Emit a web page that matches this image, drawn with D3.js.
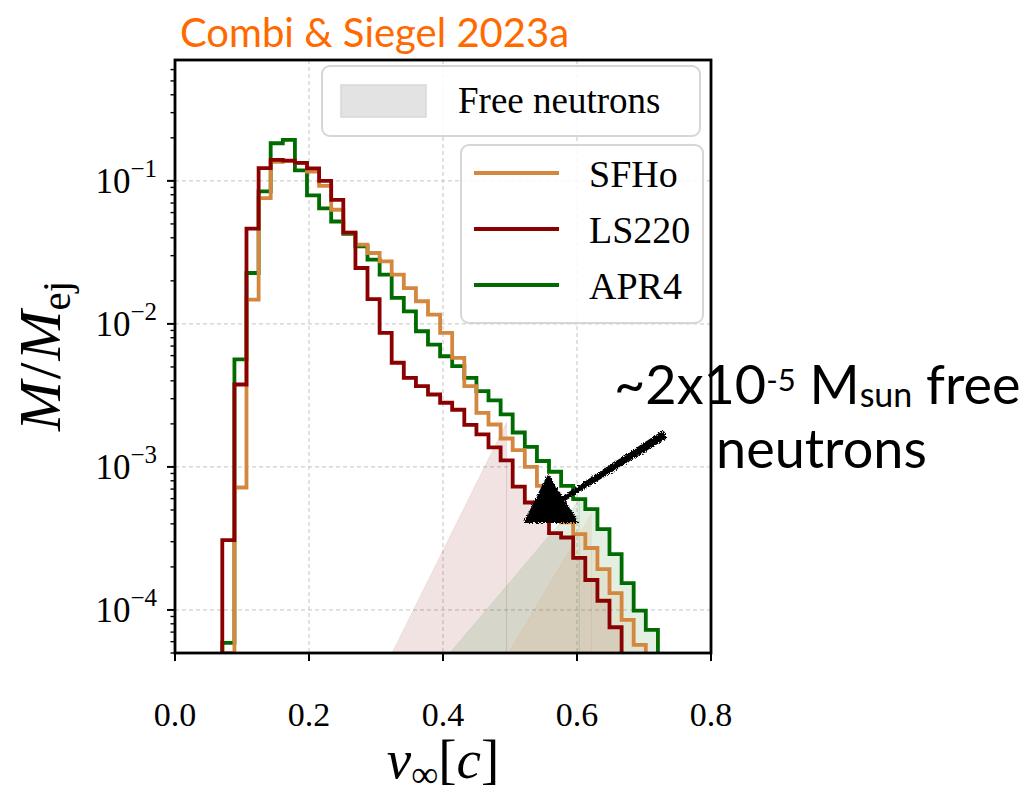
<!DOCTYPE html>
<html>
<head>
<meta charset="utf-8">
<script src="https://cdn.jsdelivr.net/npm/d3@7"></script>
<style>
  body { margin: 0; background: #fff; }
  svg { display: block; }
</style>
</head>
<body>
<svg id="chart" width="1030" height="796"></svg>
<script>
// Velocity bin edges v_inf [c] shared by all three histograms
const binEdges = [0.0706, 0.0887, 0.1067, 0.1248, 0.1428, 0.1609, 0.1790, 0.1970, 0.2151, 0.2331,
  0.2512, 0.2693, 0.2873, 0.3054, 0.3234, 0.3415, 0.3596, 0.3776, 0.3957, 0.4137,
  0.4318, 0.4499, 0.4679, 0.4860, 0.5040, 0.5221, 0.5402, 0.5582, 0.5763, 0.5943,
  0.6124, 0.6305, 0.6485, 0.6666, 0.6846, 0.7027, 0.7208];

// Mass fraction M/M_ej per bin (null = empty bin)
const sfho = [null, 7.18e-4, 0.0148, 0.0757, 0.1357, 0.1378, 0.1335, 0.1161, 0.0923, 0.0628,
  0.0434, 0.0358, 0.0313, 0.0274, 0.0221, 0.0178, 0.0144, 0.0116, 0.00866, 0.00579,
  0.00367, 0.00239, 0.00198, 0.00158, 0.00131, 0.00100, 7.37e-4, 5.49e-4, 4.09e-4, 3.39e-4,
  2.71e-4, 1.93e-4, 1.31e-4, 8.51e-5, 5.70e-5];
const ls220 = [3.08e-4, 3.77e-3, 0.0463, 0.1226, 0.140, 0.1385, 0.1335, 0.1222, 0.100, 0.0737,
  0.0434, 0.0246, 0.0149, 0.00866, 0.00535, 0.00420, 0.00367, 0.00321, 0.00281, 0.00251,
  0.00197, 0.00169, 0.00137, 0.00111, 7.27e-4, 5.64e-4, 4.60e-4, 3.44e-4, 3.21e-4, 2.31e-4,
  1.62e-4, 1.16e-4, 7.57e-5];
const apr4 = [5.88e-5, 5.64e-3, 0.0227, 0.0845, 0.1832, 0.1932, 0.1184, 0.0792, 0.0643, 0.0520,
  0.0427, 0.0348, 0.0281, 0.0221, 0.0152, 0.01225, 0.00888, 0.00717, 0.00594, 0.00506,
  0.00420, 0.00339, 0.00292, 0.00233, 0.00174, 0.00138, 0.00110, 9.25e-4, 7.37e-4, 5.95e-4,
  5.07e-4, 3.67e-4, 2.46e-4, 1.54e-4, 9.89e-5, 7.25e-5];

// Free-neutron shading: ramp start velocity, bin whose centre is the ramp apex, apex mass
const rampLS220 = { startV: 0.3239, apexBin: 23, apexM: 2.05e-3 };
const rampAPR4  = { startV: 0.4104, apexBin: 29, apexM: 5.85e-4 };
const rampSFHo  = { startV: 0.4975, apexBin: 30, apexM: 4.70e-4 };

const xTicks = [0.0, 0.2, 0.4, 0.6, 0.8];
const xTickLabels = ["0.0", "0.2", "0.4", "0.6", "0.8"];
const yTicks = [1e-4, 1e-3, 1e-2, 1e-1];
const yTickExponents = ["\u22124", "\u22123", "\u22122", "\u22121"];

const seriesNames = ["SFHo", "LS220", "APR4"];
const seriesColors = { SFHo: "#d4873f", LS220: "#8b0000", APR4: "#006b00" };

// Annotation arrow (data space): head apex, head base corners, shaft start and tail
const arrowHead = [[0.5567, 9.0e-4], [0.5200, 4.05e-4], [0.6030, 4.05e-4]];
const arrowShaft = [[0.575, 5.8e-4], [0.7313, 1.69e-3]];

const yMin = 5e-5, yMax = 0.7;
const plot = { left: 175, top: 60, right: 711, bottom: 653 };

const svg = d3.select("#chart");
const x = d3.scaleLinear().domain([0, 0.8]).range([plot.left, plot.right]);
const y = d3.scaleLog().domain([yMin, yMax]).range([plot.bottom, plot.top]);

const serif = "'Liberation Serif', 'DejaVu Serif', serif";
const sans = "Lato, 'Open Sans', sans-serif";

const defs = svg.append("defs");
defs.append("clipPath").attr("id", "plotClip")
  .append("rect")
  .attr("x", plot.left).attr("y", plot.top)
  .attr("width", plot.right - plot.left).attr("height", plot.bottom - plot.top);

const rough = defs.append("filter").attr("id", "rough")
  .attr("x", "-20%").attr("y", "-20%").attr("width", "140%").attr("height", "140%");
rough.append("feTurbulence").attr("type", "fractalNoise").attr("baseFrequency", 0.9)
  .attr("numOctaves", 2).attr("seed", 3).attr("result", "noise");
rough.append("feDisplacementMap").attr("in", "SourceGraphic").attr("in2", "noise")
  .attr("scale", 5).attr("xChannelSelector", "R").attr("yChannelSelector", "G");

const line = d3.line().x(d => x(d[0])).y(d => y(d[1]));
const clampM = m => (m == null ? yMin : Math.max(m, yMin));

// ---- grid ----
const grid = svg.append("g").attr("stroke", "#c4c4c4").attr("stroke-width", 1)
  .attr("stroke-dasharray", "4,3");
xTicks.filter(v => v > 0 && v < 0.8).forEach(v => {
  grid.append("line").attr("x1", x(v)).attr("x2", x(v))
    .attr("y1", plot.top).attr("y2", plot.bottom);
});
yTicks.forEach(v => {
  grid.append("line").attr("x1", plot.left).attr("x2", plot.right)
    .attr("y1", y(v)).attr("y2", y(v));
});

// ---- free-neutron shading ----
function binCentre(j) { return (binEdges[j] + binEdges[j + 1]) / 2; }

function rampPoints(r) {
  const c = binCentre(r.apexBin);
  return [[r.startV, yMin], [c, r.apexM], [c, yMin]];
}

function tailPoints(vals, j) {
  const c = binCentre(j);
  const pts = [[c, yMin], [c, clampM(vals[j])], [binEdges[j + 1], clampM(vals[j])]];
  for (let i = j + 1; i < vals.length; i++) {
    pts.push([binEdges[i], clampM(vals[i])], [binEdges[i + 1], clampM(vals[i])]);
  }
  pts.push([binEdges[vals.length], yMin]);
  return pts;
}

const shade = svg.append("g").attr("clip-path", "url(#plotClip)");
[
  { ramp: rampLS220, vals: ls220, name: "LS220" },
  { ramp: rampAPR4, vals: apr4, name: "APR4" },
  { ramp: rampSFHo, vals: sfho, name: "SFHo" }
].forEach(s => {
  const col = seriesColors[s.name];
  shade.append("path").attr("d", line(rampPoints(s.ramp)) + "Z")
    .attr("fill", col).attr("fill-opacity", 0.11)
    .attr("stroke", col).attr("stroke-opacity", 0.08).attr("stroke-width", 1);
  shade.append("path").attr("d", line(tailPoints(s.vals, s.ramp.apexBin)) + "Z")
    .attr("fill", col).attr("fill-opacity", 0.11)
    .attr("stroke", col).attr("stroke-opacity", 0.08).attr("stroke-width", 1);
});

// ---- step histograms ----
function stepPoints(vals) {
  const pts = [[binEdges[0], yMin]];
  vals.forEach((m, i) => {
    pts.push([binEdges[i], clampM(m)], [binEdges[i + 1], clampM(m)]);
  });
  pts.push([binEdges[vals.length], yMin]);
  return pts;
}

const hist = svg.append("g").attr("clip-path", "url(#plotClip)");
[["APR4", apr4], ["SFHo", sfho], ["LS220", ls220]].forEach(([name, vals]) => {
  hist.append("path").attr("d", line(stepPoints(vals)))
    .attr("fill", "none").attr("stroke", seriesColors[name])
    .attr("stroke-width", 3.8).attr("stroke-linejoin", "miter");
});

// ---- axes ----
const axes = svg.append("g");
// x ticks
xTicks.forEach((v, i) => {
  axes.append("line").attr("x1", x(v)).attr("x2", x(v))
    .attr("y1", plot.bottom).attr("y2", plot.bottom + 8)
    .attr("stroke", "#000").attr("stroke-width", 2);
  axes.append("text").attr("x", x(v)).attr("y", plot.bottom + 73)
    .attr("text-anchor", "middle").attr("font-family", serif).attr("font-size", 34)
    .text(xTickLabels[i]);
});
// y minor ticks
const minor = [];
for (let e = -5; e <= -1; e++) {
  for (let m = 2; m <= 9; m++) {
    const v = m * Math.pow(10, e);
    if (v >= yMin && v <= yMax) minor.push(v);
  }
}
minor.forEach(v => {
  axes.append("line").attr("x1", plot.left - 4.5).attr("x2", plot.left)
    .attr("y1", y(v)).attr("y2", y(v)).attr("stroke", "#000").attr("stroke-width", 1.4);
});
// y major ticks and labels
yTicks.forEach((v, i) => {
  axes.append("line").attr("x1", plot.left - 8).attr("x2", plot.left)
    .attr("y1", y(v)).attr("y2", y(v)).attr("stroke", "#000").attr("stroke-width", 2);
  const t = axes.append("text").attr("x", plot.left - 18).attr("y", y(v) + 12)
    .attr("text-anchor", "end").attr("font-family", serif);
  t.append("tspan").attr("font-size", 35).text("10");
  t.append("tspan").attr("font-size", 25).attr("dy", -16).text(yTickExponents[i]);
});
// frame
axes.append("rect").attr("x", plot.left).attr("y", plot.top)
  .attr("width", plot.right - plot.left).attr("height", plot.bottom - plot.top)
  .attr("fill", "none").attr("stroke", "#000").attr("stroke-width", 2.8);

// axis labels
const xl = svg.append("text").attr("x", 443).attr("y", 778).attr("text-anchor", "middle")
  .attr("font-family", serif).attr("font-size", 55);
xl.append("tspan").attr("font-style", "italic").text("v");
xl.append("tspan").attr("font-size", 38).attr("dy", 9).text("\u221e");
xl.append("tspan").attr("dy", -9).text("[");
xl.append("tspan").attr("font-style", "italic").text("c");
xl.append("tspan").text("]");

const yl = svg.append("text").attr("transform", "translate(60,356) rotate(-90)")
  .attr("text-anchor", "middle").attr("font-family", serif).attr("font-size", 60);
yl.append("tspan").attr("font-style", "italic").text("M");
yl.append("tspan").attr("dx", 2).text("/");
yl.append("tspan").attr("font-style", "italic").attr("dx", 2).text("M");
yl.append("tspan").attr("font-size", 41).attr("dy", 10).text("ej");

// ---- legends ----
const leg1 = svg.append("g");
leg1.append("rect").attr("x", 322).attr("y", 66).attr("width", 378).attr("height", 70)
  .attr("rx", 8).attr("fill", "#fff").attr("fill-opacity", 0.85)
  .attr("stroke", "#d6d6d6").attr("stroke-width", 2);
leg1.append("rect").attr("x", 341).attr("y", 85).attr("width", 85).attr("height", 32)
  .attr("fill", "#e3e3e3").attr("stroke", "#d8d8d8").attr("stroke-width", 1.5);
leg1.append("text").attr("x", 458).attr("y", 113).attr("font-family", serif)
  .attr("font-size", 37).text("Free neutrons");

const leg2 = svg.append("g");
leg2.append("rect").attr("x", 461).attr("y", 145).attr("width", 242).attr("height", 178)
  .attr("rx", 8).attr("fill", "#fff").attr("fill-opacity", 0.85)
  .attr("stroke", "#d6d6d6").attr("stroke-width", 2);
seriesNames.forEach((name, i) => {
  const cy = 173 + i * 56;
  leg2.append("line").attr("x1", 474).attr("x2", 559).attr("y1", cy).attr("y2", cy)
    .attr("stroke", seriesColors[name]).attr("stroke-width", 3.8);
  leg2.append("text").attr("x", 589).attr("y", cy + 14).attr("font-family", serif)
    .attr("font-size", 38).text(name);
});

// ---- hand-drawn arrow ----
const arrow = svg.append("g").attr("filter", "url(#rough)").attr("fill", "#000");
arrow.append("path").attr("d", line(arrowHead) + "Z");
{
  const p0 = [x(arrowShaft[0][0]), y(arrowShaft[0][1])];
  const p1 = [x(arrowShaft[1][0]), y(arrowShaft[1][1])];
  const dx = p1[0] - p0[0], dy = p1[1] - p0[1];
  const len = Math.hypot(dx, dy);
  const nx = -dy / len, ny = dx / len;
  const w0 = 2.8, w1 = 4.4;
  const poly = [
    [p0[0] + nx * w0, p0[1] + ny * w0], [p1[0] + nx * w1, p1[1] + ny * w1],
    [p1[0] - nx * w1, p1[1] - ny * w1], [p0[0] - nx * w0, p0[1] - ny * w0]
  ];
  arrow.append("path").attr("d", "M" + poly.map(p => p.join(",")).join("L") + "Z");
}

// ---- annotation ----
const note1 = svg.append("text").attr("x", 614).attr("y", 404)
  .attr("font-family", sans).attr("font-size", 54).attr("fill", "#000");
note1.append("tspan").text("~2x10");
note1.append("tspan").attr("font-size", 31).attr("dy", -13).text("-5");
note1.append("tspan").attr("dy", 13).text(" M");
note1.append("tspan").attr("font-size", 34).attr("dy", 3).text("sun");
note1.append("tspan").attr("dy", -3).text(" free");
svg.append("text").attr("x", 716).attr("y", 468)
  .attr("font-family", sans).attr("font-size", 54).attr("fill", "#000").text("neutrons");

// ---- title ----
svg.append("text").attr("x", 180).attr("y", 47)
  .attr("font-family", sans).attr("font-size", 40).attr("fill", "#ff6a00")
  .text("Combi & Siegel 2023a");
</script>
</body>
</html>
